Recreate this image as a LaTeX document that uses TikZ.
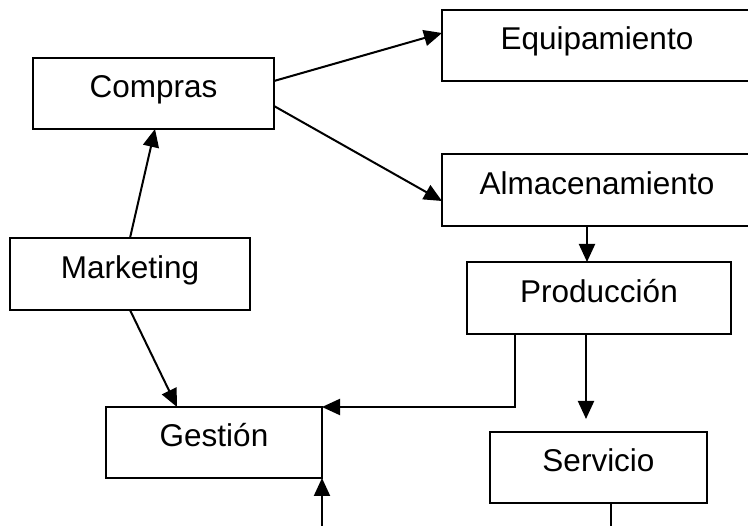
\documentclass[tikz,border=0pt]{standalone}
\usepackage{fontspec}
\setmainfont{Liberation Sans}
\usetikzlibrary{arrows.meta}
\begin{document}
\begin{tikzpicture}[x=1pt,y=-1pt,
  box/.style={draw, line width=2pt, rectangle, inner sep=0pt, outer sep=0pt,
    text height=23pt, text depth=14pt,
    font=\fontsize{31.5}{36}\selectfont},
  arr/.style={line width=2pt, -{Triangle[length=18pt,width=16pt]}},
  ln/.style={line width=2pt}]
\useasboundingbox (0,0) rectangle (748,526);
\clip (0,0) rectangle (748,526);
\fill[white] (0,0) rectangle (748,526);

% departments
\node[box, minimum width=241pt, minimum height=71pt] (compras) at (153.5,93.5) {Compras};
\node[box, minimum width=310pt, minimum height=71pt] (equip) at (597,45.5) {Equipamiento};
\node[box, minimum width=310pt, minimum height=72pt] (almac) at (597,190) {Almacenamiento};
\node[box, minimum width=240pt, minimum height=72pt] (mkt) at (130,274) {Marketing};
\node[box, minimum width=264pt, minimum height=72pt] (prod) at (599,298) {Producción};
\node[box, minimum width=216pt, minimum height=71pt] (gest) at (214,442.5) {Gestión};
\node[box, minimum width=217pt, minimum height=71pt] (serv) at (598.5,467.5) {Servicio};

% loose ends running off the bottom edge
\coordinate (sout) at (611,530);
\coordinate (gin) at (322,530);

% flows
\draw[arr] ([yshift=12.5pt]compras.east) -- ([yshift=12.5pt]equip.west);
\draw[arr] ([yshift=-12.5pt]compras.east) -- ([yshift=-11pt]almac.west);
\draw[arr] ([xshift=-10pt]almac.south) -- ([xshift=-10pt]almac.south |- prod.north);
\draw[arr] (mkt.north) -- ([xshift=1.5pt]compras.south);
\draw[arr] (mkt.south) -- ([xshift=-37pt]gest.north);
\draw[arr] ([xshift=-84pt]prod.south) |- (gest.north east);
\draw[arr, shorten >=13pt] ([xshift=-13pt]prod.south) -- ([xshift=-13pt]prod.south |- serv.north);
\draw[ln] ([xshift=12.5pt]serv.south) -- (sout);
\draw[arr] (gin) -- (gest.south east);
\end{tikzpicture}
\end{document}
